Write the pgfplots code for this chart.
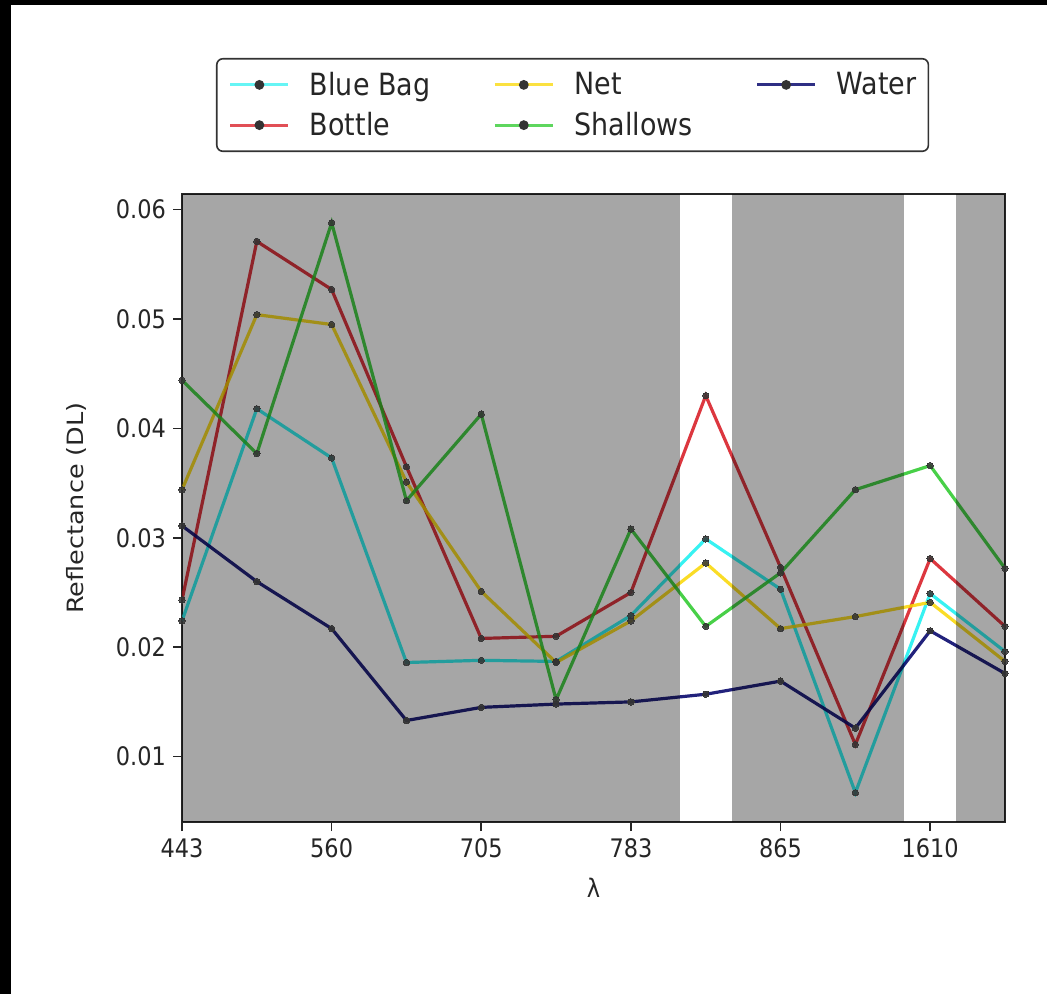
\documentclass[border=0pt]{standalone}
\usepackage{fontspec}
\setmainfont{DejaVu Sans}[FakeStretch=0.88]
\newfontfamily\ylfont{DejaVu Sans}
\usepackage{graphicx}
\usepackage{pgfplots}
\pgfplotsset{compat=1.18}
\usepackage{pgfplotstable}

\definecolor{cBag}{RGB}{20,240,240}
\definecolor{cBottle}{RGB}{215,20,30}
\definecolor{cNet}{RGB}{250,215,0}
\definecolor{cShallow}{RGB}{40,200,40}
\definecolor{cWater}{RGB}{10,10,110}

\pgfplotstableread{
x bag bottle net shallows water
0  0.0224 0.0243 0.0344 0.0444 0.0311
1  0.0418 0.0571 0.0504 0.0377 0.0260
2  0.0373 0.0527 0.0495 0.0588 0.0217
3  0.0186 0.0365 0.0351 0.0334 0.0133
4  0.0188 0.0208 0.0251 0.0413 0.0145
5  0.0187 0.0210 0.0186 0.0152 0.0148
6  0.0229 0.0250 0.0224 0.0308 0.0150
7  0.0299 0.0430 0.0277 0.0219 0.0157
8  0.0253 0.0273 0.0217 0.0268 0.0169
9  0.0067 0.0111 0.0228 0.0344 0.0126
10 0.0249 0.0281 0.0241 0.0366 0.0215
11 0.0196 0.0219 0.0187 0.0272 0.0176
}\refl

\begin{document}
\begin{tikzpicture}
\fill[black] (0pt,0pt) rectangle (523.5pt,-497pt);
\fill[white] (5.5pt,-2.5pt) rectangle (523.5pt,-497pt);
\begin{axis}[
  at={(91pt,-411pt)}, anchor=south west,
  scale only axis, width=411.5pt, height=314pt,
  xmin=0, xmax=11, ymin=0.00402, ymax=0.06143,
  xtick={0,2,4,6,8,10},
  xticklabels={443,560,705,783,865,1610},
  ytick={0.01,0.02,0.03,0.04,0.05,0.06},
  yticklabels={0.01,0.02,0.03,0.04,0.05,0.06},
  scaled y ticks=false,
  tick align=outside, major tick length=4.5pt,
  tick style={black!85, line width=0.8pt},
  xtick pos=bottom, ytick pos=left,
  axis line style={black!85, line width=0.8pt},
  tick label style={font=\fontsize{12.75}{15}\selectfont, text=black!85},
  /pgf/number format/assume math mode=true,
  xlabel={λ}, ylabel={\ylfont\scalebox{1}[0.88]{Reflectance (DL)}},
  label style={font=\fontsize{12.75}{15}\selectfont, text=black!85},
  xlabel style={at={(axis description cs:0.5,-0.105)}, anchor=center},
  ylabel style={at={(axis description cs:-0.128,0.5)}, anchor=center},
  legend columns=3,
  legend cell align=left,
  legend image code/.code={\draw[#1, line width=1.6pt] (0pt,0pt) -- (29pt,0pt);
     \fill[black!80] (14.5pt,0pt) circle (1.6pt);},
  legend style={at={(axis description cs:0.0413,1.2166)}, anchor=north west,
     draw=black!80, line width=0.8pt, rounded corners=3pt,
     font=\fontsize{15.3}{18}\selectfont, text=black!85,
     inner xsep=6pt, inner ysep=5.5pt, row sep=5pt,
     /tikz/every odd column/.append style={column sep=10pt},
     /tikz/every even column/.append style={column sep=31.5pt},
     nodes={inner xsep=0pt, inner ysep=1pt}},
  clip=true,
]
\pgfplotsset{every axis plot/.append style={line width=1.6pt,
   mark=*, mark size=1.6pt, mark options={fill=black!80, draw=black!80, line width=0pt}}}
\addplot[cBag, opacity=0.85, forget plot] table[x=x,y=bag]{\refl};
\addplot[cBottle, opacity=0.85, forget plot] table[x=x,y=bottle]{\refl};
\addplot[cNet, opacity=0.85, forget plot] table[x=x,y=net]{\refl};
\addplot[cShallow, opacity=0.85, forget plot] table[x=x,y=shallows]{\refl};
\addplot[cWater, opacity=0.9, forget plot] table[x=x,y=water]{\refl};
\fill[black, fill opacity=0.35] (axis cs:0,0.00402) rectangle (axis cs:6.65,0.06143);
\fill[black, fill opacity=0.35] (axis cs:7.35,0.00402) rectangle (axis cs:9.65,0.06143);
\fill[black, fill opacity=0.35] (axis cs:10.35,0.00402) rectangle (axis cs:11,0.06143);
\addlegendimage{cBag!65!white}\addlegendentry{Blue Bag}
\addlegendimage{cNet!75!white}\addlegendentry{Net}
\addlegendimage{cWater!85!white}\addlegendentry{Water}
\addlegendimage{cBottle!75!white}\addlegendentry{Bottle}
\addlegendimage{cShallow!75!white}\addlegendentry{Shallows}
\end{axis}
\end{tikzpicture}
\end{document}
